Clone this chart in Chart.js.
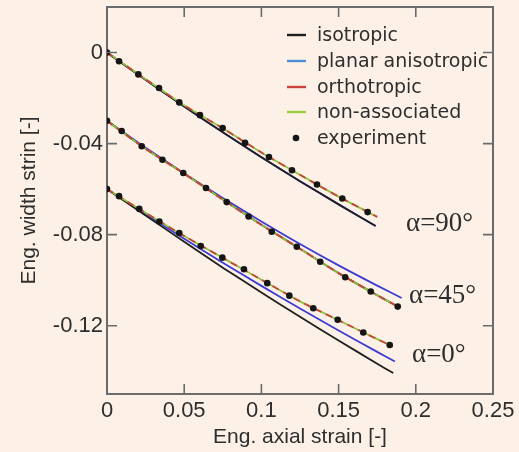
<!DOCTYPE html>
<html>
<head>
<meta charset="utf-8">
<script src="https://cdn.jsdelivr.net/npm/chart.js@4/dist/chart.umd.min.js"></script>
<style>
  html, body { margin: 0; padding: 0; background: #fdf1e7; }
  #wrap { width: 519px; height: 452px; }
</style>
</head>
<body>
<div id="wrap"><canvas id="c" width="519" height="452"></canvas></div>
<script>
// Axis ticks
const xTicks = [0, 0.05, 0.1, 0.15, 0.2, 0.25];
const xTickLabels = ['0', '0.05', '0.1', '0.15', '0.2', '0.25'];
const yTicks = [-0.12, -0.08, -0.04, 0];
const yTickLabels = ['-0.12', '-0.08', '-0.04', '0'];

// Legend entries
const seriesNames = ['isotropic', 'planar anisotropic', 'orthotropic', 'non-associated', 'experiment'];

// Orientation labels
const angleLabels = ['\u03b1=90\u00b0', '\u03b1=45\u00b0', '\u03b1=0\u00b0'];

// alpha = 90 deg
const exp90X = [0, 0.0078, 0.0203, 0.0337, 0.0468, 0.0602, 0.0749, 0.0894, 0.1049, 0.1198, 0.1360, 0.1524, 0.1688];
const exp90Y = [0, -0.0038, -0.0096, -0.0156, -0.0219, -0.0275, -0.0332, -0.0397, -0.0459, -0.0517, -0.0580, -0.0641, -0.0701];
const iso90X = [0, 0.025, 0.05, 0.075, 0.1, 0.125, 0.15, 0.174];
const iso90Y = [0, -0.0120, -0.0237, -0.0350, -0.0460, -0.0565, -0.0667, -0.0762];
const planar90X = [0, 0.025, 0.05, 0.075, 0.1, 0.125, 0.15, 0.174];
const planar90Y = [0, -0.0120, -0.0237, -0.0350, -0.0460, -0.0565, -0.0667, -0.0762];
const ortho90X = [0, 0.025, 0.05, 0.075, 0.1, 0.125, 0.15, 0.175];
const ortho90Y = [0, -0.0117, -0.0232, -0.0333, -0.0439, -0.0537, -0.0633, -0.0722];
const nonassoc90X = [0, 0.025, 0.05, 0.075, 0.1, 0.125, 0.15, 0.175];
const nonassoc90Y = [0, -0.0117, -0.0232, -0.0333, -0.0439, -0.0537, -0.0633, -0.0722];

// alpha = 45 deg
const exp45X = [0, 0.0095, 0.0225, 0.0359, 0.0494, 0.0641, 0.0775, 0.0917, 0.1067, 0.1229, 0.1381, 0.1543, 0.1708, 0.1883];
const exp45Y = [-0.030, -0.0345, -0.0412, -0.0471, -0.0529, -0.0595, -0.0657, -0.0720, -0.0787, -0.0853, -0.0919, -0.0987, -0.1050, -0.1116];
const iso45X = [0, 0.025, 0.05, 0.075, 0.1, 0.125, 0.15, 0.175, 0.189];
const iso45Y = [-0.030, -0.0423, -0.0532, -0.0646, -0.0757, -0.0862, -0.0969, -0.1066, -0.1118];
const planar45X = [0, 0.025, 0.05, 0.075, 0.1, 0.125, 0.15, 0.175, 0.1908];
const planar45Y = [-0.030, -0.0418, -0.0531, -0.0639, -0.0742, -0.0841, -0.0935, -0.1024, -0.1078];
const ortho45X = [0, 0.025, 0.05, 0.075, 0.1, 0.125, 0.15, 0.175, 0.189];
const ortho45Y = [-0.030, -0.0423, -0.0532, -0.0646, -0.0757, -0.0862, -0.0969, -0.1066, -0.1118];
const nonassoc45X = [0, 0.025, 0.05, 0.075, 0.1, 0.125, 0.15, 0.175, 0.189];
const nonassoc45Y = [-0.030, -0.0423, -0.0532, -0.0646, -0.0757, -0.0862, -0.0969, -0.1066, -0.1118];

// alpha = 0 deg
const exp0X = [0, 0.0078, 0.0209, 0.0339, 0.0468, 0.0607, 0.0747, 0.0887, 0.1038, 0.1181, 0.1336, 0.1494, 0.1660, 0.1831];
const exp0Y = [-0.060, -0.0631, -0.0687, -0.0742, -0.0793, -0.0850, -0.0901, -0.0952, -0.1013, -0.1068, -0.1123, -0.1174, -0.1230, -0.1285];
const iso0X = [0, 0.025, 0.05, 0.075, 0.1, 0.125, 0.15, 0.175, 0.1854];
const iso0Y = [-0.060, -0.0716, -0.0831, -0.0945, -0.1054, -0.1161, -0.1265, -0.1367, -0.1408];
const planar0X = [0, 0.025, 0.05, 0.075, 0.1, 0.125, 0.15, 0.175, 0.1865];
const planar0Y = [-0.060, -0.0710, -0.0818, -0.0923, -0.1025, -0.1124, -0.1221, -0.1315, -0.1357];
const ortho0X = [0, 0.025, 0.05, 0.075, 0.1, 0.125, 0.15, 0.175, 0.185];
const ortho0Y = [-0.060, -0.0704, -0.0806, -0.0902, -0.0998, -0.1093, -0.1176, -0.1259, -0.1291];
const nonassoc0X = [0, 0.025, 0.05, 0.075, 0.1, 0.125, 0.15, 0.175, 0.185];
const nonassoc0Y = [-0.060, -0.0704, -0.0806, -0.0902, -0.0998, -0.1093, -0.1176, -0.1259, -0.1291];

const COLORS = {
  iso: '#1f1f1f',
  planar: '#3c3cd2',
  ortho: '#c9433a',
  nonassoc: '#8fc43e',
  exp: '#151515'
};
const LEGEND_COLORS = ['#1f1f1f', '#4a8fd6', '#c9433a', '#9bcc3c', '#151515'];
const AXIS_COLOR = '#6b6b6b';
const TEXT_COLOR = '#2e2e2e';
const SANS = "'Liberation Sans', Arial, sans-serif";

const pts = (xs, ys) => xs.map((x, i) => ({ x: x, y: ys[i] }));

function model(kind, xs, ys) {
  const base = {
    type: 'line',
    data: pts(xs, ys),
    borderColor: COLORS[kind],
    borderWidth: 1.8,
    pointRadius: 0,
    fill: false,
    tension: 0.25
  };
  if (kind === 'iso') base.order = 3;
  if (kind === 'planar') base.order = 4;
  if (kind === 'nonassoc') base.order = 2;
  if (kind === 'ortho') { base.order = 1; base.borderDash = [7, 5]; }
  return base;
}
function experiment(xs, ys) {
  return {
    type: 'scatter',
    data: pts(xs, ys),
    showLine: false,
    pointRadius: 3.3,
    pointBackgroundColor: COLORS.exp,
    pointBorderWidth: 0,
    order: 0
  };
}

const datasets = [
  model('iso', iso90X, iso90Y), model('planar', planar90X, planar90Y),
  model('ortho', ortho90X, ortho90Y), model('nonassoc', nonassoc90X, nonassoc90Y),
  experiment(exp90X, exp90Y),
  model('iso', iso45X, iso45Y), model('planar', planar45X, planar45Y),
  model('ortho', ortho45X, ortho45Y), model('nonassoc', nonassoc45X, nonassoc45Y),
  experiment(exp45X, exp45Y),
  model('iso', iso0X, iso0Y), model('planar', planar0X, planar0Y),
  model('ortho', ortho0X, ortho0Y), model('nonassoc', nonassoc0X, nonassoc0Y),
  experiment(exp0X, exp0Y)
];

// Page background
const background = {
  id: 'background',
  beforeDraw(chart) {
    const ctx = chart.ctx;
    ctx.save();
    ctx.fillStyle = '#fdf1e7';
    ctx.fillRect(0, 0, chart.width, chart.height);
    ctx.restore();
  }
};

// Inward tick marks on all four sides of the frame
const inwardTicks = {
  id: 'inwardTicks',
  afterDraw(chart) {
    const { ctx, chartArea: a, scales } = chart;
    const len = 10;
    ctx.save();
    ctx.strokeStyle = AXIS_COLOR;
    ctx.lineWidth = 1.6;
    ctx.beginPath();
    scales.x.ticks.forEach(t => {
      const px = scales.x.getPixelForValue(t.value);
      if (px <= a.left + 1 || px >= a.right - 1) return;
      ctx.moveTo(px, a.bottom); ctx.lineTo(px, a.bottom - len);
      ctx.moveTo(px, a.top); ctx.lineTo(px, a.top + len);
    });
    scales.y.ticks.forEach(t => {
      const py = scales.y.getPixelForValue(t.value);
      ctx.moveTo(a.left, py); ctx.lineTo(a.left + len, py);
      ctx.moveTo(a.right, py); ctx.lineTo(a.right - len, py);
    });
    ctx.stroke();
    ctx.restore();
  }
};

// Legend box and orientation labels
const annotations = {
  id: 'annotations',
  afterDraw(chart) {
    const ctx = chart.ctx;
    ctx.save();
    const rowY = [35, 61, 87, 112, 138];
    ctx.font = "19px 'DejaVu Sans', sans-serif";
    ctx.textBaseline = 'middle';
    ctx.textAlign = 'left';
    seriesNames.forEach((name, i) => {
      const y = rowY[i];
      if (i < 4) {
        ctx.strokeStyle = LEGEND_COLORS[i];
        ctx.lineWidth = 2.4;
        ctx.beginPath();
        ctx.moveTo(287, y); ctx.lineTo(306, y);
        ctx.stroke();
      } else {
        ctx.fillStyle = LEGEND_COLORS[i];
        ctx.beginPath();
        ctx.arc(296, y, 3.3, 0, Math.PI * 2);
        ctx.fill();
      }
      ctx.fillStyle = TEXT_COLOR;
      ctx.fillText(name, 317, y + 1);
    });

    ctx.font = "27px 'Liberation Serif', 'Times New Roman', serif";
    ctx.fillStyle = TEXT_COLOR;
    ctx.fillText(angleLabels[0], 406, 224);
    ctx.fillText(angleLabels[1], 409, 296);
    ctx.fillText(angleLabels[2], 412, 355);
    ctx.restore();
  }
};

new Chart(document.getElementById('c'), {
  type: 'scatter',
  data: { datasets: datasets },
  options: {
    responsive: false,
    animation: false,
    events: [],
    layout: { padding: { left: 0, top: 7, right: 26, bottom: 0 } },
    plugins: { legend: { display: false }, tooltip: { enabled: false } },
    scales: {
      x: {
        type: 'linear', position: 'bottom', min: 0, max: 0.25,
        afterBuildTicks: s => { s.ticks = xTicks.map(v => ({ value: v })); },
        afterFit: s => { s.height = 58; s.paddingLeft = 0; s.paddingRight = 0; },
        ticks: {
          callback: (v, i) => xTickLabels[i],
          font: { family: SANS, size: 22 }, color: TEXT_COLOR,
          padding: -4, maxRotation: 0, autoSkip: false
        },
        grid: { display: false },
        border: { display: true, color: AXIS_COLOR, width: 2 },
        title: {
          display: true, text: 'Eng. axial strain [-]',
          font: { family: SANS, size: 21 }, color: TEXT_COLOR,
          padding: { top: 0, bottom: 2 }
        }
      },
      y: {
        type: 'linear', position: 'left', min: -0.15, max: 0.02,
        afterBuildTicks: s => { s.ticks = yTicks.map(v => ({ value: v })); },
        afterFit: s => { s.width = 107; s.paddingTop = 0; s.paddingBottom = 0; },
        ticks: {
          callback: (v, i) => yTickLabels[i],
          font: { family: SANS, size: 22 }, color: TEXT_COLOR,
          padding: -4, autoSkip: false
        },
        grid: { display: false },
        border: { display: true, color: AXIS_COLOR, width: 2 },
        title: {
          display: true, text: 'Eng. width strin [-]',
          font: { family: SANS, size: 21 }, color: TEXT_COLOR,
          padding: { top: 17, bottom: 0 }
        }
      },
      x2: {
        type: 'linear', position: 'top', min: 0, max: 0.25,
        afterFit: s => { s.height = 0; s.paddingLeft = 0; s.paddingRight = 0; },
        ticks: { display: false },
        grid: { display: false },
        border: { display: true, color: AXIS_COLOR, width: 2 }
      },
      y2: {
        type: 'linear', position: 'right', min: -0.15, max: 0.02,
        afterFit: s => { s.width = 0; s.paddingTop = 0; s.paddingBottom = 0; },
        ticks: { display: false },
        grid: { display: false },
        border: { display: true, color: AXIS_COLOR, width: 2 }
      }
    }
  },
  plugins: [background, inwardTicks, annotations]
});
</script>
</body>
</html>
